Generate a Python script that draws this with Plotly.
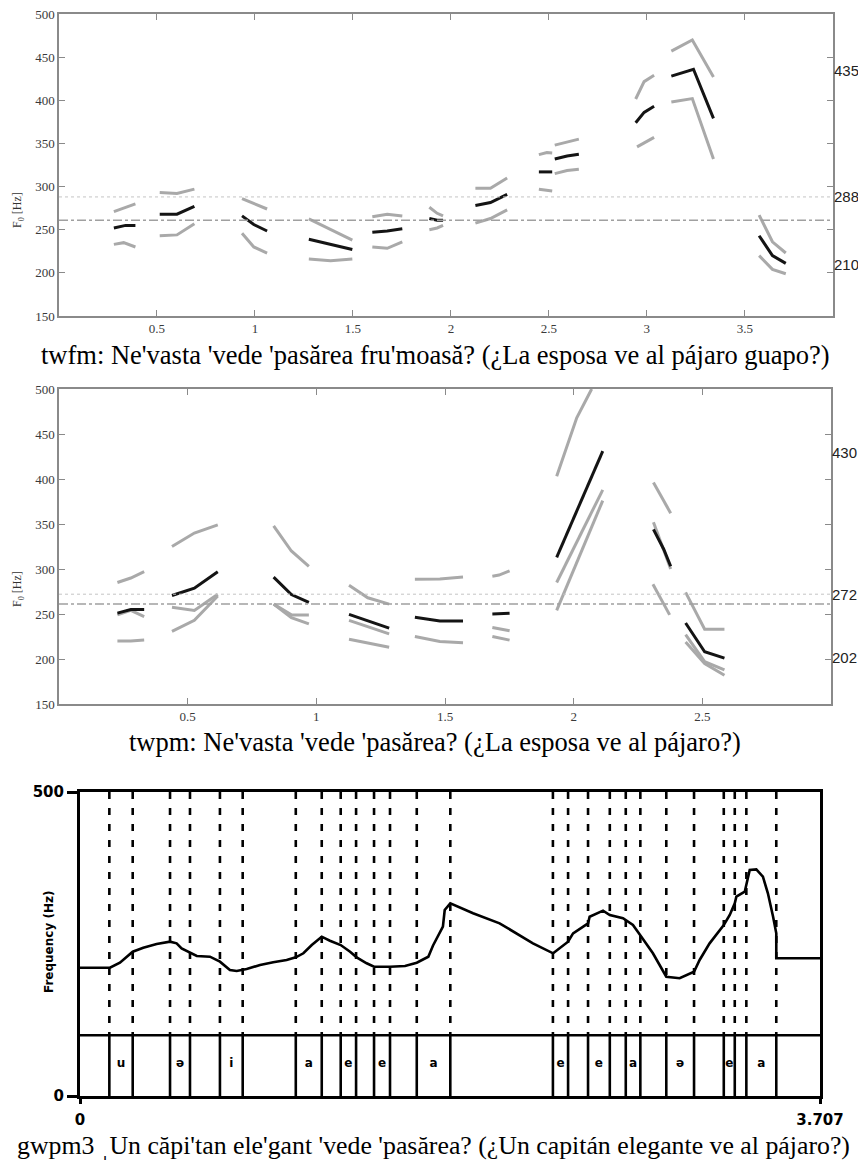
import plotly.graph_objects as go

# figure is 850x1152; the page adds an 8px body margin -> 866x1168 total
FIG_W, FIG_H = 850, 1152
OFF = 8

# ---------------- Panel 1 data (time s, F0 Hz) ----------------
P1_BLACK = [
    [(0.28, 252), (0.34, 255), (0.39, 255)],
    [(0.514, 268), (0.602, 268), (0.691, 277)],
    [(0.934, 266), (0.994, 256), (1.062, 248.5)],
    [(1.275, 239), (1.497, 227)],
    [(1.599, 247), (1.675, 248.5), (1.752, 251)],
    [(1.89, 263), (1.93, 261), (1.96, 261)],
    [(2.125, 278), (2.202, 281.5), (2.287, 291)],
    [(2.449, 317), (2.517, 317)],
    [(2.53, 332), (2.593, 335.5), (2.653, 337.5)],
    [(2.943, 374), (2.986, 386), (3.037, 393)],
    [(3.125, 428), (3.238, 436), (3.34, 379)],
    [(3.573, 243), (3.641, 220), (3.709, 211)],
]
P1_GRAY = [
    [(0.28, 271), (0.39, 280)],
    [(0.28, 233), (0.33, 235), (0.39, 230)],
    [(0.514, 293), (0.602, 292), (0.691, 297)],
    [(0.514, 243), (0.602, 244), (0.691, 257)],
    [(0.934, 286), (1.062, 274)],
    [(0.934, 246), (0.994, 230), (1.062, 223)],
    [(1.275, 262.5), (1.497, 238)],
    [(1.275, 216), (1.386, 214), (1.497, 216)],
    [(1.599, 265), (1.675, 268), (1.752, 266)],
    [(1.599, 230), (1.675, 228.5), (1.752, 236)],
    [(1.89, 276), (1.93, 269), (1.96, 266)],
    [(1.89, 250), (1.93, 252), (1.96, 255)],
    [(2.125, 298), (2.202, 298), (2.287, 310)],
    [(2.125, 257.6), (2.202, 263), (2.287, 273)],
    [(2.449, 337), (2.49, 339.5), (2.517, 339)],
    [(2.449, 297), (2.517, 295)],
    [(2.53, 348), (2.653, 355)],
    [(2.53, 315), (2.593, 318.6), (2.653, 320)],
    [(2.943, 401.5), (2.986, 421.6), (3.037, 429)],
    [(2.95, 346), (3.037, 357)],
    [(3.125, 457), (3.232, 470), (3.34, 427)],
    [(3.125, 398), (3.232, 402), (3.34, 332)],
    [(3.573, 267), (3.641, 236), (3.709, 223)],
    [(3.573, 220), (3.641, 204), (3.709, 199)],
]
P1_DOTTED = 288
P1_DASHDOT = 261
P1_RIGHT_LABELS = [435, 288, 210]
P1_XTICKS = [0.5, 1, 1.5, 2, 2.5, 3, 3.5]
P1_XMAX = 3.95

# ---------------- Panel 2 data ----------------
P2_BLACK = [
    [(0.227, 251), (0.279, 255), (0.331, 255)],
    [(0.439, 270.5), (0.526, 278.6), (0.617, 297)],
    [(0.834, 291), (0.903, 271.6), (0.971, 263)],
    [(1.127, 249.5), (1.283, 234.3)],
    [(1.383, 246.3), (1.48, 242.2), (1.57, 242.2)],
    [(1.684, 250), (1.751, 250.7)],
    [(1.934, 313), (2.113, 431)],
    [(2.31, 344), (2.35, 322), (2.377, 303)],
    [(2.435, 240), (2.509, 208), (2.586, 201)],
]
P2_GRAY = [
    [(0.227, 285), (0.279, 290), (0.331, 297)],
    [(0.227, 220), (0.279, 220), (0.331, 221)],
    [(0.227, 249), (0.279, 254), (0.331, 247)],
    [(0.439, 325), (0.526, 340), (0.617, 349)],
    [(0.439, 257.6), (0.526, 254), (0.617, 272)],
    [(0.439, 230.6), (0.526, 243), (0.617, 270)],
    [(0.834, 348), (0.903, 320), (0.971, 303)],
    [(0.834, 261), (0.903, 249), (0.971, 249)],
    [(0.834, 261), (0.903, 246), (0.971, 239)],
    [(1.127, 282), (1.2, 268), (1.283, 261)],
    [(1.127, 243), (1.283, 228)],
    [(1.127, 222), (1.283, 213)],
    [(1.383, 288.5), (1.48, 289), (1.57, 291)],
    [(1.383, 225), (1.48, 219.5), (1.57, 218)],
    [(1.684, 292), (1.71, 293.3), (1.751, 298)],
    [(1.684, 235), (1.751, 231.5)],
    [(1.684, 225), (1.751, 221)],
    [(1.934, 403), (2.012, 468), (2.07, 500)],
    [(1.934, 285), (2.113, 388)],
    [(1.934, 254), (2.113, 376)],
    [(2.31, 396), (2.377, 362)],
    [(2.31, 352), (2.377, 300)],
    [(2.308, 283), (2.373, 249)],
    [(2.435, 274), (2.509, 233), (2.586, 233)],
    [(2.435, 227), (2.509, 197), (2.586, 188)],
    [(2.435, 219), (2.509, 195), (2.586, 182)],
]
P2_DOTTED = 272
P2_DASHDOT = 261
P2_RIGHT_LABELS = [430, 272, 202]
P2_XTICKS = [0.5, 1, 1.5, 2, 2.5]
P2_XMAX = 3.0

YTICKS = [150, 200, 250, 300, 350, 400, 450, 500]

# ---------------- Panel 3 data (Praat pitch + TextGrid) ----------------
P3_TMAX = 3.707
P3_TIME = [0, 0.150, 0.200, 0.264, 0.317, 0.384, 0.451, 0.484, 0.509, 0.551,
           0.585, 0.651, 0.701, 0.751, 0.785, 0.835, 0.902, 0.968, 1.035, 1.081,
           1.119, 1.161, 1.211, 1.252, 1.306, 1.353, 1.386, 1.436, 1.473, 1.553,
           1.628, 1.687, 1.745, 1.768, 1.818, 1.827, 1.855, 1.969, 2.102, 2.269,
           2.370, 2.445, 2.470, 2.545, 2.553, 2.620, 2.654, 2.720, 2.770, 2.812,
           2.870, 2.937, 3.004, 3.076, 3.104, 3.154, 3.205, 3.225, 3.255, 3.280,
           3.288, 3.330, 3.355, 3.388, 3.421, 3.446, 3.472, 3.488, 3.488, 3.707]
P3_F0 = [211, 211, 219.2, 237.3, 243.9, 250, 253.8, 251.1, 242.9, 235.7,
         230.3, 229.1, 220.9, 207.2, 205.6, 208.9, 215.5, 219.9, 223.7, 228.1,
         234.7, 248.3, 262, 255.4, 248.3, 237.3, 228.1, 218.3, 212.7, 212.7,
         213.8, 219.2, 229.1, 247.2, 278.4, 305.9, 316.9, 300.5, 284, 251.1,
         234.7, 253.8, 267.6, 284, 294.9, 304.8, 297.7, 292.3, 281.2, 262,
         234.7, 196.2, 193.6, 204.4, 223.7, 251.1, 273, 281.2, 297.7, 316.9,
         327.8, 336, 371.7, 372.8, 360.7, 333.4, 294.9, 267.6, 226.5, 226.5]
P3_BOUNDS = [0.147, 0.264, 0.451, 0.551, 0.701, 0.815, 1.081, 1.211, 1.306, 1.383,
             1.473, 1.553, 1.687, 1.855, 2.369, 2.445, 2.545, 2.654, 2.734, 2.807,
             2.937, 3.076, 3.225, 3.280, 3.338, 3.488]
P3_LABELS = ["u", "ə", "i", "a", "e", "e", "a", "e", "e", "a", "ə", "e", "a"]
P3_TIER_TOP = 100
P3_LABEL_Y = 52

CAP1 = "twfm: Ne'vasta 'vede 'pasărea fru'moasă? (¿La esposa ve al pájaro guapo?)"
CAP2 = "twpm: Ne'vasta 'vede 'pasărea? (¿La esposa ve al pájaro?)"
CAP3 = "gwpm3 ˌUn căpi'tan ele'gant 'vede 'pasărea? (¿Un capitán elegante ve al pájaro?)"


def flat(segs):
    xs, ys = [], []
    for s in segs:
        for (a, b) in s:
            xs.append(a)
            ys.append(b)
        xs.append(None)
        ys.append(None)
    return xs, ys


def FX(pix):  # page pixel column -> paper x
    return (pix - OFF) / FIG_W


def FY(pix):  # page pixel row -> paper y
    return 1 - (pix - OFF) / FIG_H


fig = go.Figure()

GRAY = "#a9a9a9"
BLACK = "#141414"

for segs_g, segs_b, xa, ya in [(P1_GRAY, P1_BLACK, "x", "y"), (P2_GRAY, P2_BLACK, "x2", "y2")]:
    gx, gy = flat(segs_g)
    fig.add_trace(go.Scatter(x=gx, y=gy, mode="lines", line=dict(color=GRAY, width=3),
                             xaxis=xa, yaxis=ya, showlegend=False, hoverinfo="skip"))
    bx, by = flat(segs_b)
    fig.add_trace(go.Scatter(x=bx, y=by, mode="lines", line=dict(color=BLACK, width=3),
                             xaxis=xa, yaxis=ya, showlegend=False, hoverinfo="skip"))

# panel 3 pitch
fig.add_trace(go.Scatter(x=P3_TIME, y=P3_F0, mode="lines", line=dict(color="black", width=2.6),
                         xaxis="x3", yaxis="y3", showlegend=False, hoverinfo="skip"))
# tier labels
mids = [(P3_BOUNDS[2 * i] + P3_BOUNDS[2 * i + 1]) / 2 for i in range(len(P3_LABELS))]
fig.add_trace(go.Scatter(x=mids, y=[P3_LABEL_Y] * len(mids), mode="text",
                         text=[f"<b>{l}</b>" for l in P3_LABELS],
                         textfont=dict(family="DejaVu Sans", size=12, color="black"),
                         xaxis="x3", yaxis="y3", showlegend=False, hoverinfo="skip"))

# reference lines panels 1-2
for xa, ya, dot, dd in [("x", "y", P1_DOTTED, P1_DASHDOT), ("x2", "y2", P2_DOTTED, P2_DASHDOT)]:
    fig.add_shape(type="line", xref=f"{xa} domain", yref=ya, x0=0, x1=1, y0=dot, y1=dot,
                  line=dict(color="#c4c4c4", width=1, dash="dot"))
    fig.add_shape(type="line", xref=f"{xa} domain", yref=ya, x0=0, x1=1, y0=dd, y1=dd,
                  line=dict(color="#a0a0a0", width=1.5, dash="dashdot"))

# panel 3 boundaries
for b in P3_BOUNDS:
    fig.add_shape(type="line", xref="x3", yref="y3", x0=b, x1=b, y0=500, y1=P3_TIER_TOP,
                  line=dict(color="black", width=2.6, dash="7px,9px"))
    fig.add_shape(type="line", xref="x3", yref="y3", x0=b, x1=b, y0=P3_TIER_TOP, y1=0,
                  line=dict(color="black", width=2.6))
fig.add_shape(type="line", xref="x3 domain", yref="y3", x0=0, x1=1, y0=P3_TIER_TOP, y1=P3_TIER_TOP,
              line=dict(color="black", width=2.6))

tickfont_serif = dict(family="Liberation Serif", size=13, color="#3a3a3a")
axis_common = dict(showgrid=False, zeroline=False, showline=True, linecolor="#8a8a8a", linewidth=1.5,
                   mirror="ticks", ticks="inside", ticklen=6, tickcolor="#8a8a8a", tickwidth=1.2,
                   tickfont=tickfont_serif, automargin=False, ticklabeloverflow="allow")
praat_font = dict(family="DejaVu Sans", size=15, color="black")

fig.update_layout(
    template="none",
    width=FIG_W, height=FIG_H, autosize=False,
    margin=dict(l=0, r=0, t=0, b=0, pad=0, autoexpand=False),
    paper_bgcolor="white", plot_bgcolor="white",
    xaxis=dict(domain=[FX(59), FX(833)], range=[0, P1_XMAX], tickvals=P1_XTICKS,
               anchor="y", **axis_common),
    yaxis=dict(domain=[FY(316), FY(14)], range=[150, 500.001], tickvals=YTICKS, anchor="x", **axis_common),
    xaxis2=dict(domain=[FX(59), FX(831)], range=[0, P2_XMAX], tickvals=P2_XTICKS,
                anchor="y2", **axis_common),
    yaxis2=dict(domain=[FY(704), FY(389)], range=[150, 500.001], tickvals=YTICKS, anchor="x2", **axis_common),
    xaxis3=dict(domain=[FX(80), FX(820)], range=[0, P3_TMAX], tickvals=[0, P3_TMAX],
                ticktext=["<b>0</b>", "<b>3.707</b>"], anchor="y3", automargin=False,
                ticklabeloverflow="allow",
                showgrid=False, zeroline=False, showline=True, linecolor="black", linewidth=3,
                mirror=True, ticks="outside", ticklen=5, tickwidth=2.5, tickcolor="black",
                ticklabelstandoff=3, tickfont=praat_font),
    yaxis3=dict(domain=[FY(1096), FY(792)], range=[0, 500], tickvals=[0, 500],
                ticktext=["<b>0</b>", "<b>500</b>"], anchor="x3", automargin=False,
                ticklabeloverflow="allow",
                showgrid=False, zeroline=False, showline=True, linecolor="black", linewidth=3,
                mirror=True, ticks="outside", ticklen=10, tickwidth=2.5, tickcolor="black",
                tickfont=praat_font),
)

cap_font = dict(family="Liberation Serif", size=26.5, color="black")
ann = [
    dict(text=CAP1, x=FX(435), y=FY(355), xref="paper", yref="paper", showarrow=False,
         xanchor="center", yanchor="middle", font=cap_font),
    dict(text=CAP2, x=FX(435), y=FY(742), xref="paper", yref="paper", showarrow=False,
         xanchor="center", yanchor="middle", font=cap_font),
    dict(text=CAP3, x=FX(433), y=FY(1145), xref="paper", yref="paper", showarrow=False,
         xanchor="center", yanchor="middle",
         font=dict(family="Liberation Serif", size=25.8, color="black")),
    dict(text="F<sub>0</sub> [Hz]", x=FX(18), y=FY(210), xref="paper", yref="paper", showarrow=False,
         xanchor="center", yanchor="middle", textangle=-90,
         font=dict(family="Liberation Serif", size=12, color="#333")),
    dict(text="F<sub>0</sub> [Hz]", x=FX(18), y=FY(589), xref="paper", yref="paper", showarrow=False,
         xanchor="center", yanchor="middle", textangle=-90,
         font=dict(family="Liberation Serif", size=12, color="#333")),
    dict(text="<b>Frequency (Hz)</b>", x=FX(49), y=FY(942), xref="paper", yref="paper", showarrow=False,
         xanchor="center", yanchor="middle", textangle=-90,
         font=dict(family="DejaVu Sans", size=12, color="black")),
]
for v in P1_RIGHT_LABELS:
    ann.append(dict(text=str(v), x=FX(832), y=v, xref="paper", yref="y", showarrow=False,
                    xanchor="left", yanchor="middle",
                    font=dict(family="Liberation Sans", size=15, color="#222")))
for v in P2_RIGHT_LABELS:
    ann.append(dict(text=str(v), x=FX(830), y=v, xref="paper", yref="y2", showarrow=False,
                    xanchor="left", yanchor="middle",
                    font=dict(family="Liberation Sans", size=15, color="#222")))
fig.update_layout(annotations=ann)

fig.write_html("out.html")
